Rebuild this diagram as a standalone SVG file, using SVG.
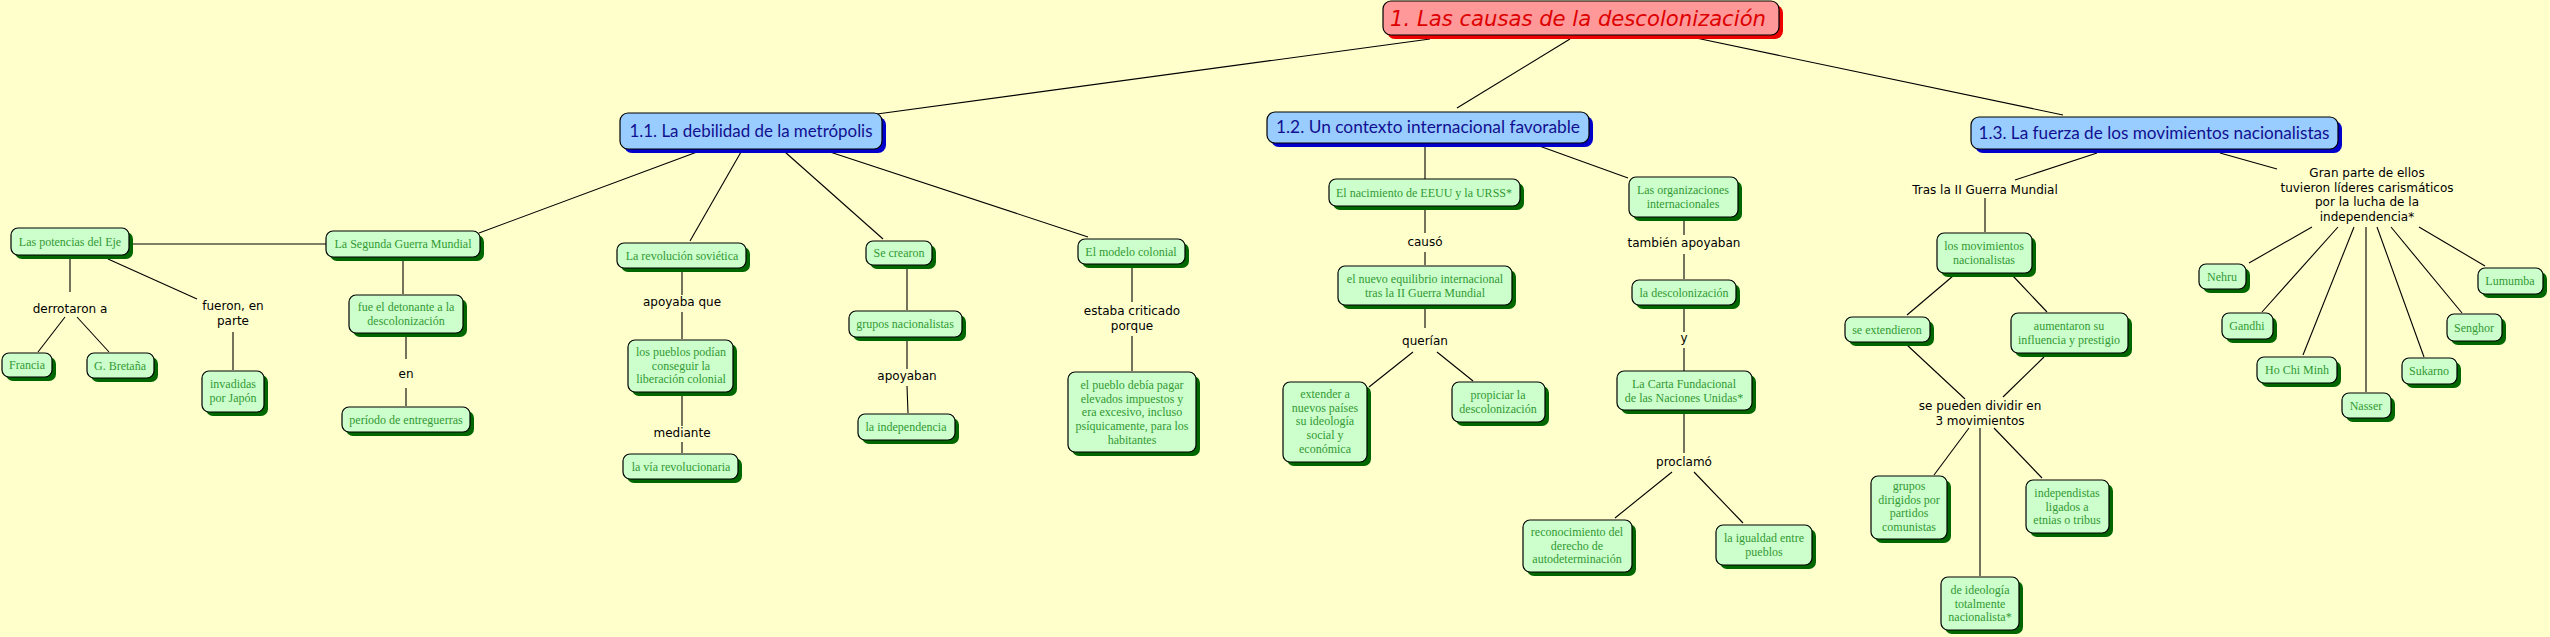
<svg xmlns="http://www.w3.org/2000/svg" width="2550" height="637" viewBox="0 0 2550 637">
<style>
.bg{fill:#ffffcc}
.s{fill:#006600}
.b{fill:#ccffcc;stroke:#000;stroke-width:1.2}
.t{font-family:"Liberation Serif","Times New Roman",serif;font-size:12px;fill:#339933;text-anchor:middle}
.l{font-family:"DejaVu Sans","Verdana",sans-serif;font-size:12px;fill:#000;text-anchor:middle}
.hs{fill:#0000cc}
.hb{fill:#99ccff;stroke:#000;stroke-width:1.2}
.ht{font-family:"Lato","Open Sans",sans-serif;font-size:17px;fill:#101090;text-anchor:middle}
.ts{fill:#ee0000}
.tb{fill:#ff9999;stroke:#000;stroke-width:1.2}
.tt{font-family:"DejaVu Sans",sans-serif;font-style:italic;font-size:21px;fill:#dd0000;text-anchor:middle}
#connectors line{stroke:#000;stroke-width:1.1}
</style>
<rect class="bg" x="0" y="0" width="2550" height="637"/>
<g id="connectors">
<line x1="1430" y1="39" x2="877" y2="114"/>
<line x1="1570" y1="39" x2="1457" y2="108"/>
<line x1="1696" y1="38" x2="2063" y2="115"/>
<line x1="697" y1="152" x2="479" y2="233"/>
<line x1="741" y1="152" x2="690" y2="241"/>
<line x1="785" y1="152" x2="883" y2="239"/>
<line x1="830" y1="152" x2="1088" y2="237"/>
<line x1="1425" y1="143" x2="1425" y2="179"/>
<line x1="1531" y1="143" x2="1628" y2="178"/>
<line x1="2097" y1="153" x2="2015" y2="180"/>
<line x1="2220" y1="153" x2="2277" y2="169"/>
<line x1="129" y1="244" x2="326" y2="244"/>
<line x1="70" y1="255" x2="70" y2="292"/>
<line x1="65" y1="317" x2="38" y2="352"/>
<line x1="77" y1="317" x2="109" y2="352"/>
<line x1="108" y1="259" x2="197" y2="299"/>
<line x1="233" y1="332" x2="233" y2="370"/>
<line x1="403" y1="257" x2="403" y2="294"/>
<line x1="406" y1="333" x2="406" y2="359"/>
<line x1="406" y1="388" x2="406" y2="406"/>
<line x1="682" y1="268" x2="682" y2="295"/>
<line x1="682" y1="312" x2="682" y2="339"/>
<line x1="682" y1="392" x2="682" y2="426"/>
<line x1="682" y1="442" x2="682" y2="453"/>
<line x1="907" y1="265" x2="907" y2="310"/>
<line x1="907" y1="337" x2="907" y2="369"/>
<line x1="907" y1="386" x2="908" y2="413"/>
<line x1="1132" y1="264" x2="1132" y2="302"/>
<line x1="1132" y1="336" x2="1132" y2="371"/>
<line x1="1425" y1="206" x2="1425" y2="233"/>
<line x1="1425" y1="252" x2="1425" y2="265"/>
<line x1="1425" y1="305" x2="1425" y2="328"/>
<line x1="1413" y1="352" x2="1369" y2="387"/>
<line x1="1437" y1="352" x2="1473" y2="381"/>
<line x1="1684" y1="217" x2="1684" y2="235"/>
<line x1="1684" y1="254" x2="1684" y2="279"/>
<line x1="1684" y1="305" x2="1684" y2="332"/>
<line x1="1684" y1="348" x2="1684" y2="371"/>
<line x1="1684" y1="410" x2="1684" y2="453"/>
<line x1="1672" y1="472" x2="1615" y2="518"/>
<line x1="1694" y1="472" x2="1743" y2="523"/>
<line x1="1985" y1="198" x2="1985" y2="232"/>
<line x1="1953" y1="276" x2="1907" y2="315"/>
<line x1="2013" y1="276" x2="2047" y2="312"/>
<line x1="1907" y1="345" x2="1965" y2="399"/>
<line x1="2044" y1="357" x2="2003" y2="397"/>
<line x1="1969" y1="428" x2="1934" y2="475"/>
<line x1="1980" y1="428" x2="1980" y2="576"/>
<line x1="1994" y1="428" x2="2042" y2="478"/>
<line x1="2312" y1="227" x2="2249" y2="263"/>
<line x1="2338" y1="227" x2="2262" y2="312"/>
<line x1="2354" y1="227" x2="2303" y2="355"/>
<line x1="2366" y1="227" x2="2366" y2="392"/>
<line x1="2377" y1="227" x2="2424" y2="357"/>
<line x1="2391" y1="227" x2="2462" y2="313"/>
<line x1="2419" y1="227" x2="2485" y2="266"/>
</g>
<g id="title"><rect class="ts" x="1387" y="5" width="396" height="34" rx="8"/><rect class="tb" x="1383" y="1" width="396" height="34" rx="8"/><text class="tt" x="1578" y="26" textLength="376" lengthAdjust="spacingAndGlyphs">1. Las causas de la descolonización</text></g>
<g id="h11"><rect class="hs" x="624" y="117" width="262" height="36" rx="8"/><rect class="hb" x="620" y="113" width="262" height="36" rx="8"/><text class="ht" x="751" y="137" textLength="243" lengthAdjust="spacingAndGlyphs">1.1. La debilidad de la metrópolis</text></g>
<g id="h12"><rect class="hs" x="1271" y="116" width="322" height="31" rx="8"/><rect class="hb" x="1267" y="112" width="322" height="31" rx="8"/><text class="ht" x="1428" y="133" textLength="304" lengthAdjust="spacingAndGlyphs">1.2. Un contexto internacional favorable</text></g>
<g id="h13"><rect class="hs" x="1975" y="121" width="367" height="32" rx="8"/><rect class="hb" x="1971" y="117" width="367" height="32" rx="8"/><text class="ht" x="2154" y="139" textLength="351" lengthAdjust="spacingAndGlyphs">1.3. La fuerza de los movimientos nacionalistas</text></g>

<g id="n-eje"><rect class="s" x="15" y="232" width="118" height="27" rx="7"/><rect class="b" x="11" y="228" width="118" height="27" rx="7"/><text class="t" x="70" y="246">Las potencias del Eje</text></g>
<g id="n-sgm"><rect class="s" x="330" y="235" width="154" height="26" rx="7"/><rect class="b" x="326" y="231" width="154" height="26" rx="7"/><text class="t" x="403" y="248">La Segunda Guerra Mundial</text></g>
<g id="n-francia"><rect class="s" x="6" y="357" width="50" height="24" rx="7"/><rect class="b" x="2" y="353" width="50" height="24" rx="7"/><text class="t" x="27" y="369">Francia</text></g>
<g id="n-gb"><rect class="s" x="91" y="357" width="67" height="25" rx="7"/><rect class="b" x="87" y="353" width="67" height="25" rx="7"/><text class="t" x="120" y="370">G. Bretaña</text></g>
<g id="n-invadidas"><rect class="s" x="206" y="375" width="62" height="41" rx="7"/><rect class="b" x="202" y="371" width="62" height="41" rx="7"/><text class="t" x="233" y="388">invadidas<tspan x="233" dy="13.7">por Japón</tspan></text></g>
<g id="n-detonante"><rect class="s" x="353" y="299" width="114" height="38" rx="7"/><rect class="b" x="349" y="295" width="114" height="38" rx="7"/><text class="t" x="406" y="311">fue el detonante a la<tspan x="406" dy="13.7">descolonización</tspan></text></g>
<g id="n-entreguerras"><rect class="s" x="346" y="411" width="128" height="25" rx="7"/><rect class="b" x="342" y="407" width="128" height="25" rx="7"/><text class="t" x="406" y="424">período de entreguerras</text></g>
<g id="n-revolucion"><rect class="s" x="621" y="247" width="129" height="25" rx="7"/><rect class="b" x="617" y="243" width="129" height="25" rx="7"/><text class="t" x="682" y="260">La revolución soviética</text></g>
<g id="n-pueblos"><rect class="s" x="632" y="344" width="105" height="52" rx="7"/><rect class="b" x="628" y="340" width="105" height="52" rx="7"/><text class="t" x="681" y="356">los pueblos podían<tspan x="681" dy="13.7">conseguir la</tspan><tspan x="681" dy="13.7">liberación colonial</tspan></text></g>
<g id="n-via"><rect class="s" x="627" y="458" width="115" height="25" rx="7"/><rect class="b" x="623" y="454" width="115" height="25" rx="7"/><text class="t" x="681" y="471">la vía revolucionaria</text></g>
<g id="n-secrearon"><rect class="s" x="870" y="245" width="66" height="24" rx="7"/><rect class="b" x="866" y="241" width="66" height="24" rx="7"/><text class="t" x="899" y="257">Se crearon</text></g>
<g id="n-grupos"><rect class="s" x="853" y="315" width="113" height="26" rx="7"/><rect class="b" x="849" y="311" width="113" height="26" rx="7"/><text class="t" x="905" y="328">grupos nacionalistas</text></g>
<g id="n-independencia"><rect class="s" x="862" y="418" width="97" height="26" rx="7"/><rect class="b" x="858" y="414" width="97" height="26" rx="7"/><text class="t" x="906" y="431">la independencia</text></g>
<g id="n-modelo"><rect class="s" x="1082" y="243" width="107" height="25" rx="7"/><rect class="b" x="1078" y="239" width="107" height="25" rx="7"/><text class="t" x="1131" y="256">El modelo colonial</text></g>
<g id="n-pueblo"><rect class="s" x="1072" y="376" width="128" height="80" rx="7"/><rect class="b" x="1068" y="372" width="128" height="80" rx="7"/><text class="t" x="1132" y="389">el pueblo debía pagar<tspan x="1132" dy="13.7">elevados impuestos y</tspan><tspan x="1132" dy="13.7">era excesivo, incluso</tspan><tspan x="1132" dy="13.7">psíquicamente, para los</tspan><tspan x="1132" dy="13.7">habitantes</tspan></text></g>
<g id="n-nacimiento"><rect class="s" x="1333" y="183" width="191" height="27" rx="7"/><rect class="b" x="1329" y="179" width="191" height="27" rx="7"/><text class="t" x="1424" y="197">El nacimiento de EEUU y la URSS*</text></g>
<g id="n-equilibrio"><rect class="s" x="1342" y="270" width="174" height="39" rx="7"/><rect class="b" x="1338" y="266" width="174" height="39" rx="7"/><text class="t" x="1425" y="283">el nuevo equilibrio internacional<tspan x="1425" dy="13.7">tras la II Guerra Mundial</tspan></text></g>
<g id="n-extender"><rect class="s" x="1287" y="386" width="84" height="80" rx="7"/><rect class="b" x="1283" y="382" width="84" height="80" rx="7"/><text class="t" x="1325" y="398">extender a<tspan x="1325" dy="13.7">nuevos países</tspan><tspan x="1325" dy="13.7">su ideología</tspan><tspan x="1325" dy="13.7">social y</tspan><tspan x="1325" dy="13.7">económica</tspan></text></g>
<g id="n-propiciar"><rect class="s" x="1456" y="386" width="93" height="40" rx="7"/><rect class="b" x="1452" y="382" width="93" height="40" rx="7"/><text class="t" x="1498" y="399">propiciar la<tspan x="1498" dy="13.7">descolonización</tspan></text></g>
<g id="n-organizaciones"><rect class="s" x="1633" y="181" width="109" height="40" rx="7"/><rect class="b" x="1629" y="177" width="109" height="40" rx="7"/><text class="t" x="1683" y="194">Las organizaciones<tspan x="1683" dy="13.7">internacionales</tspan></text></g>
<g id="n-descolonizacion"><rect class="s" x="1636" y="284" width="104" height="25" rx="7"/><rect class="b" x="1632" y="280" width="104" height="25" rx="7"/><text class="t" x="1684" y="297">la descolonización</text></g>
<g id="n-carta"><rect class="s" x="1621" y="375" width="135" height="39" rx="7"/><rect class="b" x="1617" y="371" width="135" height="39" rx="7"/><text class="t" x="1684" y="388">La Carta Fundacional<tspan x="1684" dy="13.7">de las Naciones Unidas*</tspan></text></g>
<g id="n-reconocimiento"><rect class="s" x="1527" y="524" width="109" height="52" rx="7"/><rect class="b" x="1523" y="520" width="109" height="52" rx="7"/><text class="t" x="1577" y="536">reconocimiento del<tspan x="1577" dy="13.7">derecho de</tspan><tspan x="1577" dy="13.7">autodeterminación</tspan></text></g>
<g id="n-igualdad"><rect class="s" x="1720" y="529" width="96" height="40" rx="7"/><rect class="b" x="1716" y="525" width="96" height="40" rx="7"/><text class="t" x="1764" y="542">la igualdad entre<tspan x="1764" dy="13.7">pueblos</tspan></text></g>
<g id="n-movimientos"><rect class="s" x="1941" y="237" width="95" height="40" rx="7"/><rect class="b" x="1937" y="233" width="95" height="40" rx="7"/><text class="t" x="1984" y="250">los movimientos<tspan x="1984" dy="13.7">nacionalistas</tspan></text></g>
<g id="n-extendieron"><rect class="s" x="1849" y="321" width="85" height="25" rx="7"/><rect class="b" x="1845" y="317" width="85" height="25" rx="7"/><text class="t" x="1887" y="334">se extendieron</text></g>
<g id="n-aumentaron"><rect class="s" x="2015" y="317" width="117" height="40" rx="7"/><rect class="b" x="2011" y="313" width="117" height="40" rx="7"/><text class="t" x="2069" y="330">aumentaron su<tspan x="2069" dy="13.7">influencia y prestigio</tspan></text></g>
<g id="n-comunistas"><rect class="s" x="1875" y="480" width="76" height="63" rx="7"/><rect class="b" x="1871" y="476" width="76" height="63" rx="7"/><text class="t" x="1909" y="490">grupos<tspan x="1909" dy="13.7">dirigidos por</tspan><tspan x="1909" dy="13.7">partidos</tspan><tspan x="1909" dy="13.7">comunistas</tspan></text></g>
<g id="n-etnias"><rect class="s" x="2030" y="484" width="83" height="53" rx="7"/><rect class="b" x="2026" y="480" width="83" height="53" rx="7"/><text class="t" x="2067" y="497">independistas<tspan x="2067" dy="13.7">ligados a</tspan><tspan x="2067" dy="13.7">etnias o tribus</tspan></text></g>
<g id="n-ideologia"><rect class="s" x="1945" y="581" width="78" height="53" rx="7"/><rect class="b" x="1941" y="577" width="78" height="53" rx="7"/><text class="t" x="1980" y="594">de ideología<tspan x="1980" dy="13.7">totalmente</tspan><tspan x="1980" dy="13.7">nacionalista*</tspan></text></g>
<g id="n-nehru"><rect class="s" x="2203" y="268" width="47" height="25" rx="7"/><rect class="b" x="2199" y="264" width="47" height="25" rx="7"/><text class="t" x="2222" y="281">Nehru</text></g>
<g id="n-gandhi"><rect class="s" x="2226" y="317" width="51" height="26" rx="7"/><rect class="b" x="2222" y="313" width="51" height="26" rx="7"/><text class="t" x="2247" y="330">Gandhi</text></g>
<g id="n-hochiminh"><rect class="s" x="2261" y="361" width="80" height="26" rx="7"/><rect class="b" x="2257" y="357" width="80" height="26" rx="7"/><text class="t" x="2297" y="374">Ho Chi Minh</text></g>
<g id="n-nasser"><rect class="s" x="2346" y="397" width="49" height="25" rx="7"/><rect class="b" x="2342" y="393" width="49" height="25" rx="7"/><text class="t" x="2366" y="410">Nasser</text></g>
<g id="n-sukarno"><rect class="s" x="2406" y="362" width="55" height="26" rx="7"/><rect class="b" x="2402" y="358" width="55" height="26" rx="7"/><text class="t" x="2429" y="375">Sukarno</text></g>
<g id="n-senghor"><rect class="s" x="2451" y="318" width="55" height="27" rx="7"/><rect class="b" x="2447" y="314" width="55" height="27" rx="7"/><text class="t" x="2474" y="332">Senghor</text></g>
<g id="n-lumumba"><rect class="s" x="2482" y="272" width="65" height="26" rx="7"/><rect class="b" x="2478" y="268" width="65" height="26" rx="7"/><text class="t" x="2510" y="285">Lumumba</text></g>

<g id="labels">
<text class="l" x="70" y="313">derrotaron a</text>
<text class="l" x="233" y="310">fueron, en<tspan x="233" dy="15">parte</tspan></text>
<text class="l" x="406" y="378">en</text>
<text class="l" x="682" y="306">apoyaba que</text>
<text class="l" x="682" y="437">mediante</text>
<text class="l" x="907" y="380">apoyaban</text>
<text class="l" x="1132" y="315">estaba criticado<tspan x="1132" dy="14.5">porque</tspan></text>
<text class="l" x="1425" y="246">causó</text>
<text class="l" x="1425" y="345">querían</text>
<text class="l" x="1684" y="247">también apoyaban</text>
<text class="l" x="1684" y="342">y</text>
<text class="l" x="1684" y="466">proclamó</text>
<text class="l" x="1985" y="194">Tras la II Guerra Mundial</text>
<text class="l" x="1980" y="410">se pueden dividir en<tspan x="1980" dy="15">3 movimientos</tspan></text>
<text class="l" x="2367" y="177">Gran parte de ellos<tspan x="2367" dy="14.6">tuvieron líderes carismáticos</tspan><tspan x="2367" dy="14.6">por la lucha de la</tspan><tspan x="2367" dy="14.6">independencia*</tspan></text>
</g>
</svg>
